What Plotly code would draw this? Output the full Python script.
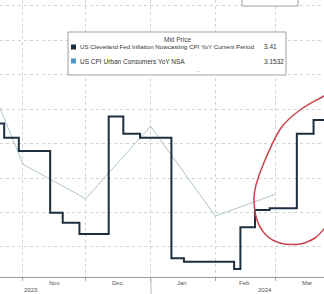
import plotly.graph_objects as go

# ---- data ----
nowcast_dates = ["2023-10-20", "2023-10-23", "2023-10-30", "2023-11-14", "2023-11-20",
                 "2023-11-28", "2023-12-12", "2023-12-19", "2023-12-27", "2024-01-11",
                 "2024-01-17", "2024-02-10", "2024-02-13", "2024-02-20", "2024-02-27",
                 "2024-03-11", "2024-03-19", "2024-03-25"]
nowcast_vals = [3.358, 3.317, 3.278, 3.099, 3.070,
                3.038, 3.378, 3.328, 3.317, 2.967,
                2.957, 2.936, 3.057, 3.107, 3.112,
                3.328, 3.368, 3.368]

cpi_dates = ["2023-10-01", "2023-11-01", "2023-12-01", "2024-01-01", "2024-02-01", "2024-03-01"]
cpi_vals = [3.70, 3.24, 3.14, 3.35, 3.09, 3.1532]

month_starts = ["2023-11-01", "2023-12-01", "2024-01-01", "2024-02-01", "2024-03-01"]
month_mids = ["2023-11-16", "2023-12-16", "2024-01-16", "2024-02-15", "2024-03-16"]
month_labels = ["Nov", "Dec", "Jan", "Feb", "Mar"]
year_labels = ["2023", "2024"]

legend_title = "Mid Price"
legend_names = ["US Cleveland Fed Inflation Nowcasting CPI YoY Current Period",
                "US CPI Urban Consumers YoY NSA"]
legend_values = ["3.41", "3.1532"]
legend_name_sizes = [6.2, 6.5]

NAVY = "#1d2e3f"
CPI_LINE = "#adc5ce"
CPI_SQ = "#4f93c9"
FONT = "Liberation Sans, Arial, sans-serif"

W, H = 324, 294
AXIS_Y = 277  # pixel row of the x axis line


def px(x):
    return x / W


def py(y):
    return (AXIS_Y - y) / AXIS_Y


fig = go.Figure()
fig.add_trace(go.Scatter(x=cpi_dates, y=cpi_vals, mode="lines",
                         line=dict(color=CPI_LINE, width=1), hoverinfo="skip"))
fig.add_trace(go.Scatter(x=nowcast_dates, y=nowcast_vals, mode="lines",
                         line=dict(color=NAVY, width=2, shape="hv"), hoverinfo="skip"))

shapes = []
annotations = []

# month labels
for d, t in zip(month_mids, month_labels):
    annotations.append(dict(x=d, xref="x", y=py(283), yref="paper", text=t,
                            showarrow=False, font=dict(size=6, color="#555", family=FONT),
                            xanchor="center", yanchor="middle"))
# year labels
for (xp, yp), t in zip([(31, 290), (265, 290)], year_labels):
    annotations.append(dict(x=px(xp), xref="paper", y=py(yp), yref="paper", text=t,
                            showarrow=False, font=dict(size=6, color="#555", family=FONT),
                            xanchor="center", yanchor="middle"))
# year separator
shapes.append(dict(type="line", xref="paper", yref="paper", x0=px(151), x1=px(151),
                   y0=py(AXIS_Y), y1=py(296), line=dict(color="#bbbbbb", width=1)))

# partial box at top right
shapes.append(dict(type="rect", xref="paper", yref="paper", x0=px(242), x1=px(298),
                   y0=py(6), y1=py(-10), fillcolor="white", line=dict(color="#a0a0a0", width=1)))

# legend box
shapes.append(dict(type="rect", xref="paper", yref="paper", x0=px(68), x1=px(286),
                   y0=py(75), y1=py(32), fillcolor="white", line=dict(color="#a0a0a0", width=1)))
annotations.append(dict(x=px(177), xref="paper", y=py(39), yref="paper", text=legend_title,
                        showarrow=False, font=dict(size=6.5, color="#444", family=FONT),
                        xanchor="center", yanchor="middle"))
for i, (name, val, col, fs) in enumerate(zip(legend_names, legend_values, [NAVY, CPI_SQ],
                                             legend_name_sizes)):
    yy = 47 + i * 14
    shapes.append(dict(type="rect", xref="paper", yref="paper", x0=px(71), x1=px(76),
                       y0=py(yy + 2.5), y1=py(yy - 2.5), fillcolor=col, line=dict(width=0)))
    annotations.append(dict(x=px(78), xref="paper", y=py(yy), yref="paper", text=name,
                            showarrow=False, font=dict(size=fs, color="#333", family=FONT),
                            xanchor="left", yanchor="middle"))
    annotations.append(dict(x=px(262), xref="paper", y=py(yy), yref="paper", text=val,
                            showarrow=False, font=dict(size=6.5, color="#333", family=FONT),
                            xanchor="left", yanchor="middle"))
annotations.append(dict(x=px(198), xref="paper", y=py(70), yref="paper", text="...",
                        showarrow=False, font=dict(size=5, color="#666", family=FONT),
                        xanchor="center", yanchor="middle"))

# hand-drawn red ellipse (Catmull-Rom through traced outline points)
pts = [(360, 70), (345, 84), (323, 96.5), (300, 110), (281, 128), (265, 160), (256, 185),
       (254, 200), (257, 220), (266, 235), (280, 243), (300, 244), (315, 238),
       (324, 229), (335, 218), (345, 205)]
path = "M %f,%f" % (px(pts[1][0]), py(pts[1][1]))
for i in range(1, len(pts) - 2):
    p0, p1, p2, p3 = pts[i - 1], pts[i], pts[i + 1], pts[i + 2]
    c1 = (p1[0] + (p2[0] - p0[0]) / 6, p1[1] + (p2[1] - p0[1]) / 6)
    c2 = (p2[0] - (p3[0] - p1[0]) / 6, p2[1] - (p3[1] - p1[1]) / 6)
    path += " C %f,%f %f,%f %f,%f" % (px(c1[0]), py(c1[1]), px(c2[0]), py(c2[1]),
                                      px(p2[0]), py(p2[1]))
shapes.append(dict(type="path", xref="paper", yref="paper", path=path,
                   line=dict(color="#c9444b", width=1.5)))

fig.update_layout(
    width=W, height=H,
    margin=dict(l=0, r=0, t=0, b=H - AXIS_Y),
    paper_bgcolor="white", plot_bgcolor="white",
    showlegend=False,
    shapes=shapes, annotations=annotations,
    xaxis=dict(range=["2023-10-21", "2024-03-24"], tickvals=month_starts,
               showticklabels=False, showgrid=True, gridcolor="#d2d2d2", griddash="dot",
               gridwidth=1, ticks="outside", ticklen=3, tickcolor="#aaaaaa",
               showline=True, linecolor="#999999", linewidth=1, zeroline=False),
    yaxis=dict(range=[2.913, 3.716], tick0=3.0, dtick=0.1, showticklabels=False,
               showgrid=True, gridcolor="#d2d2d2", griddash="dot", gridwidth=1,
               zeroline=False, showline=False, ticks=""),
)

fig.write_html("out.html", config={"displayModeBar": False})
